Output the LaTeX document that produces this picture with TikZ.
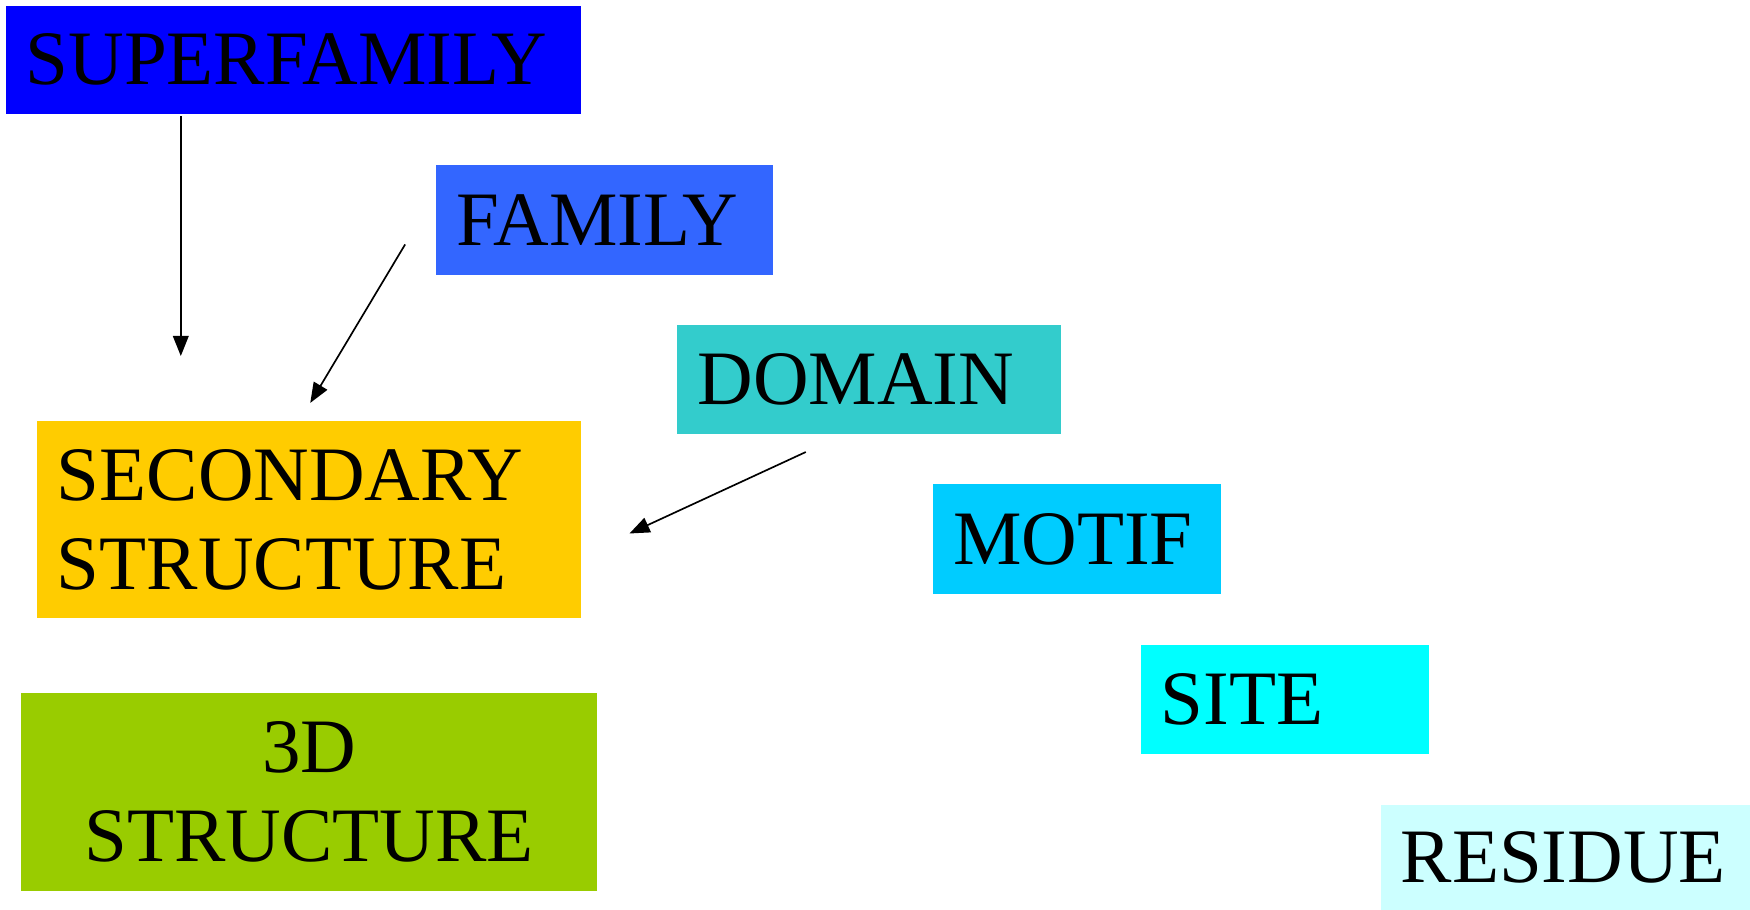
\documentclass[tikz,border=0pt]{standalone}
\usepackage{fontspec}
\setmainfont{Liberation Serif}
\usetikzlibrary{arrows.meta}
\definecolor{csf}{RGB}{0,0,255}
\definecolor{cfam}{RGB}{51,102,255}
\definecolor{cdom}{RGB}{51,204,204}
\definecolor{cmot}{RGB}{0,204,255}
\definecolor{csite}{RGB}{0,255,255}
\definecolor{cres}{RGB}{204,255,255}
\definecolor{csec}{RGB}{255,204,0}
\definecolor{cthr}{RGB}{153,204,0}
\begin{document}
\begin{tikzpicture}[x=1pt,y=-1pt,
  lvl/.style={fill=#1, draw=none, inner xsep=18pt, inner ysep=0pt, align=left,
    font=\fontsize{69}{80}\selectfont, anchor=center},
  conn/.style={-{Triangle[length=18pt,width=14pt]}, line width=1.5pt, black}]
\useasboundingbox (0,0) rectangle (1568,815);
\node[lvl=csf, text width=480pt, minimum height=97pt] (sf) at (263,53.5) {SUPERFAMILY};
\node[lvl=cfam, text width=266pt, minimum height=98pt] (fam) at (542,197) {FAMILY};
\node[lvl=cdom, text width=308pt, minimum height=98pt] (dom) at (779,340) {DOMAIN};
\node[lvl=cmot, text width=222pt, minimum height=98pt] (mot) at (965,483) {MOTIF};
\node[lvl=csite, text width=222pt, minimum height=98pt] (site) at (1151,627) {SITE};
\node[lvl=cres, text width=295pt, minimum height=94pt] (res) at (1402.5,768) {RESIDUE};
\node[lvl=csec, text width=452pt, minimum height=177pt] (sec) at (277,465.5) {SECONDARY\\STRUCTURE};
\node[lvl=cthr, text width=480pt, minimum height=177pt, align=center] (thr) at (277,709.5) {3D\\STRUCTURE};
\coordinate (a1e) at (162,319);
\coordinate (a2s) at (363,219);
\coordinate (a2e) at (278,361);
\coordinate (a3s) at (722,405);
\coordinate (a3e) at (564,478);
\draw[conn] ([yshift=-2pt]sf.south -| a1e) -- (a1e);
\draw[conn] (a2s) -- (a2e);
\draw[conn] (a3s) -- (a3e);
\end{tikzpicture}
\end{document}
